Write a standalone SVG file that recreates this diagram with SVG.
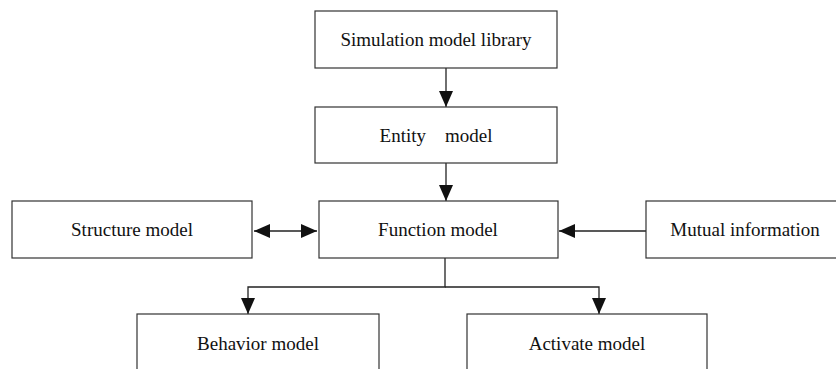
<svg xmlns="http://www.w3.org/2000/svg" width="836" height="369" viewBox="0 0 836 369">
<style>
.box{fill:#fff;stroke:#333;stroke-width:1.2}
.t{font-family:"Liberation Serif","Times New Roman",serif;font-size:19px;fill:#111;text-anchor:middle}
.c{fill:none;stroke:#222;stroke-width:1.3}
</style>
<defs>
<marker id="ahv" viewBox="0 0 16 14" refX="16" refY="7" markerWidth="16" markerHeight="14" markerUnits="userSpaceOnUse" orient="auto-start-reverse">
<path d="M0,0 L16,7 L0,14 Z" fill="#111"/>
</marker>
</defs>
<rect width="836" height="369" fill="#fff"/>
<g id="connectors">
<line class="c" x1="446" y1="68" x2="446" y2="107" marker-end="url(#ahv)"/>
<line class="c" x1="446" y1="163" x2="446" y2="201" marker-end="url(#ahv)"/>
<line class="c" x1="254" y1="231" x2="317" y2="231" marker-start="url(#ahv)" marker-end="url(#ahv)"/>
<line class="c" x1="646" y1="231" x2="559" y2="231" marker-end="url(#ahv)"/>
<polyline class="c" points="445,258 445,287 248,287 248,314" marker-end="url(#ahv)"/>
<polyline class="c" points="445,287 599,287 599,314" marker-end="url(#ahv)"/>
</g>
<g id="n-library"><rect class="box" x="315" y="11" width="242" height="57"/><text class="t" x="436" y="46">Simulation model library</text></g>
<g id="n-entity"><rect class="box" x="315" y="107" width="242" height="56"/><text class="t" x="436" y="142" xml:space="preserve">Entity    model</text></g>
<g id="n-structure"><rect class="box" x="12" y="201" width="240" height="57"/><text class="t" x="132" y="236">Structure model</text></g>
<g id="n-function"><rect class="box" x="319" y="201" width="239" height="57"/><text class="t" x="438" y="236">Function model</text></g>
<g id="n-mutual"><rect class="box" x="646" y="201" width="200" height="57"/><text class="t" x="745" y="236">Mutual information</text></g>
<g id="n-behavior"><rect class="box" x="137" y="314" width="242" height="70"/><text class="t" x="258" y="350">Behavior model</text></g>
<g id="n-activate"><rect class="box" x="467" y="314" width="240" height="70"/><text class="t" x="587" y="350">Activate model</text></g>
</svg>
